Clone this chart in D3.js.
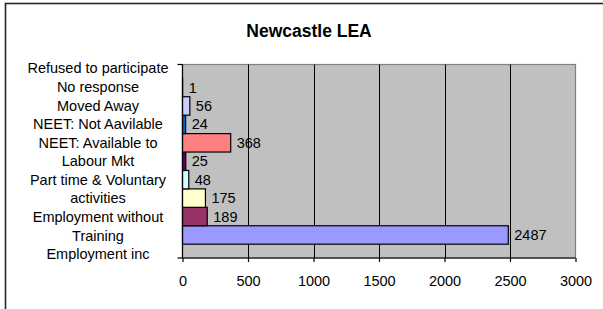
<!DOCTYPE html>
<html>
<head>
<meta charset="utf-8">
<script src="https://cdn.jsdelivr.net/npm/d3@7"></script>
<style>
    html, body { margin: 0; padding: 0; background: #fff; }
    svg { display: block; font-family: "Liberation Sans", Arial, sans-serif; }
</style>
</head>
<body>
<div id="chart"></div>
<script>
// one category (wrapped into lines), nine series, Excel-style
var CATEGORY_LINES = ["Refused to participate", "No response", "Moved Away", "NEET: Not Aavilable",
    "NEET: Available to", "Labour Mkt", "Part time & Voluntary", "activities",
    "Employment without", "Training", "Employment inc"];
var SERIES = ["Series1", "Series2", "Series3", "Series4", "Series5", "Series6", "Series7", "Series8", "Series9"];
var VALUES = [2487, 189, 175, 48, 25, 368, 24, 56, 1];
var COLORS = ["#9999FF", "#993366", "#FFFFCC", "#CCFFFF", "#660066", "#FF8080", "#0066CC", "#CCCCFF", "#000080"];
var X_TICKS = [0, 500, 1000, 1500, 2000, 2500, 3000];
var TITLE = "Newcastle LEA";

(function () {
    var W = 603, H = 309;
    var plot = {left: 182.5, right: 575.5, top: 64.5, bottom: 258};

    var svg = d3.select("#chart").append("svg")
        .attr("width", W)
        .attr("height", H);

    // chart area frame (runs off the right/bottom of the picture)
    svg.append("rect")
        .attr("x", 5.5).attr("y", 3.5)
        .attr("width", W + 10).attr("height", H + 10)
        .attr("fill", "#fff")
        .attr("stroke", "#262626")
        .attr("stroke-width", 1.6);

    svg.append("text")
        .attr("x", 309).attr("y", 37)
        .attr("text-anchor", "middle")
        .attr("font-weight", "bold")
        .attr("font-size", "17.5px")
        .text(TITLE);

    var x = d3.scaleLinear().domain([0, 3000]).range([plot.left, plot.right]);
    // series 1 at the bottom, 150% gap split both sides
    var y = d3.scaleBand().domain(SERIES.slice().reverse())
        .range([plot.top, plot.bottom])
        .paddingInner(0).paddingOuter(0.75);

    // plot area
    svg.append("rect")
        .attr("x", plot.left).attr("y", plot.top)
        .attr("width", plot.right - plot.left).attr("height", plot.bottom - plot.top)
        .attr("fill", "#C0C0C0")
        .attr("stroke", "#808080")
        .attr("stroke-width", 1.2);

    // gridlines
    svg.append("g").selectAll("line")
        .data(X_TICKS.slice(1, -1))
        .enter().append("line")
        .attr("x1", function (d) { return Math.round(x(d)) + 0.5; })
        .attr("x2", function (d) { return Math.round(x(d)) + 0.5; })
        .attr("y1", plot.top).attr("y2", plot.bottom)
        .attr("stroke", "#000").attr("stroke-width", 1);

    // bars
    var bars = SERIES.map(function (s, i) { return {name: s, value: VALUES[i], color: COLORS[i]}; });
    svg.append("g").selectAll("rect")
        .data(bars)
        .enter().append("rect")
        .attr("x", x(0))
        .attr("y", function (d) { return y(d.name); })
        .attr("width", function (d) { return x(d.value) - x(0); })
        .attr("height", y.bandwidth())
        .attr("fill", function (d) { return d.color; })
        .attr("stroke", "#000")
        .attr("stroke-width", 1.2);

    // value labels
    svg.append("g").selectAll("text")
        .data(bars)
        .enter().append("text")
        .attr("x", function (d) { return x(d.value) + 6; })
        .attr("y", function (d) { return y(d.name) + y.bandwidth() / 2 + 5; })
        .attr("font-size", "14.5px")
        .attr("fill", "#000")
        .text(function (d) { return d.value; });

    // x axis
    var xAxis = d3.axisBottom(x).tickValues(X_TICKS).tickFormat(d3.format("d"))
        .tickSize(4).tickPadding(14);
    var gx = svg.append("g")
        .attr("transform", "translate(0," + plot.bottom + ")")
        .call(xAxis);
    gx.select(".domain").attr("stroke", "#000").attr("stroke-width", 1.2)
        .attr("d", "M" + plot.left + ",0H" + plot.right);
    gx.selectAll(".tick line").attr("stroke", "#000").attr("stroke-width", 1.2);
    gx.selectAll(".tick text")
        .attr("font-family", "Liberation Sans, Arial, sans-serif")
        .attr("font-size", "14.5px")
        .attr("fill", "#000");

    // category axis: ticks only at the category edges
    var gy = svg.append("g");
    gy.append("line")
        .attr("x1", plot.left).attr("x2", plot.left)
        .attr("y1", plot.top).attr("y2", plot.bottom)
        .attr("stroke", "#000").attr("stroke-width", 1.2);
    gy.selectAll("line.edge")
        .data(y.range())
        .enter().append("line")
        .attr("class", "edge")
        .attr("x1", plot.left - 5).attr("x2", plot.left)
        .attr("y1", function (d) { return d; })
        .attr("y2", function (d) { return d; })
        .attr("stroke", "#000").attr("stroke-width", 1.2);

    // the single category name, wrapped and centred on the category
    var lineH = 18.57;
    var mid = (plot.top + plot.bottom) / 2;
    var first = mid - (CATEGORY_LINES.length - 1) / 2 * lineH;
    svg.append("g").selectAll("text")
        .data(CATEGORY_LINES)
        .enter().append("text")
        .attr("x", 98)
        .attr("y", function (d, i) { return first + i * lineH + 5; })
        .attr("text-anchor", "middle")
        .attr("font-size", "14.5px")
        .attr("fill", "#000")
        .text(function (d) { return d; });
})();
</script>
</body>
</html>
